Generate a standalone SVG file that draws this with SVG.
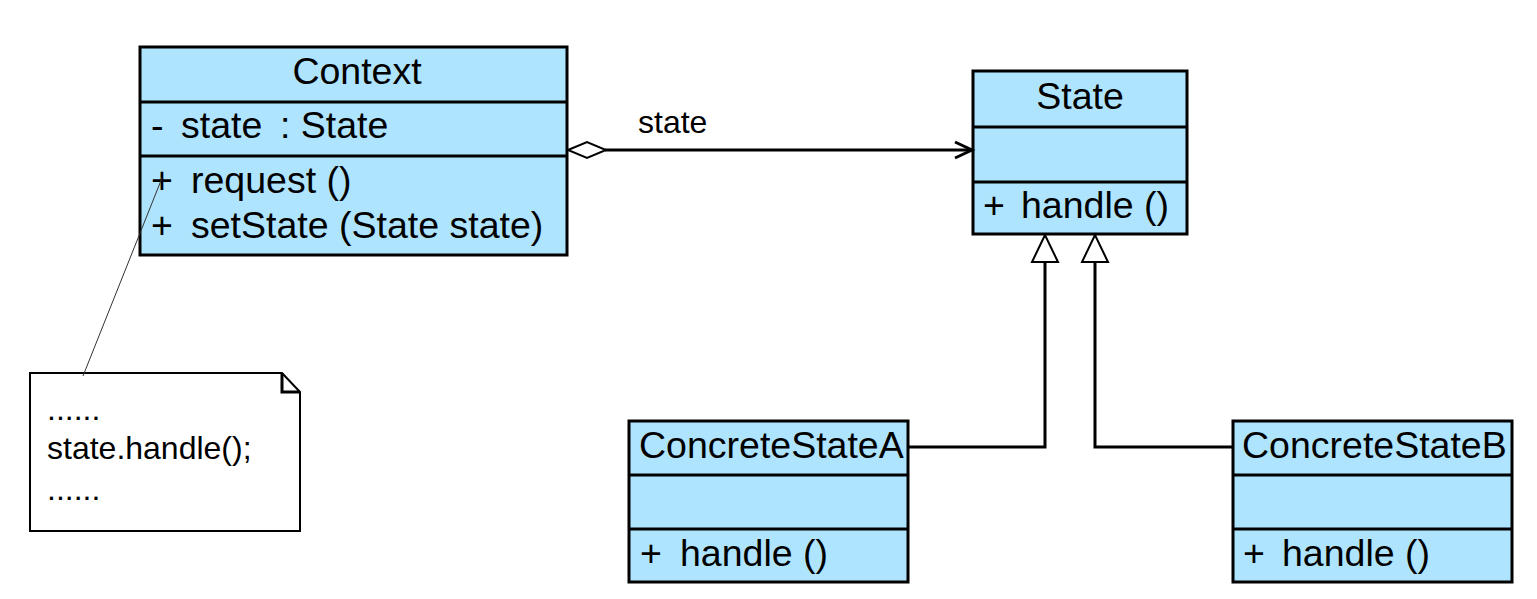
<svg xmlns="http://www.w3.org/2000/svg" width="1537" height="599" viewBox="0 0 1537 599">
<style>
.box{fill:#AFE4FE;stroke:#000;stroke-width:3}
.div{stroke:#000;stroke-width:3}
.t{font-family:"Liberation Sans",Arial,sans-serif;font-size:37.5px;fill:#000}
.c{text-anchor:middle}
.n{font-family:"Liberation Sans",Arial,sans-serif;font-size:32px;fill:#000}
.ln{fill:none;stroke:#000;stroke-width:3}
</style>
<rect x="0" y="0" width="1537" height="599" fill="#fff"/>
<g id="Context">
<rect class="box" x="140" y="47" width="427" height="208"/>
<line class="div" x1="140" y1="102" x2="567" y2="102"/>
<line class="div" x1="140" y1="156" x2="567" y2="156"/>
<text class="t c" x="357" y="84">Context</text>
<text class="t" x="151" y="138">-</text>
<text class="t" x="181" y="138">state</text>
<text class="t" x="280" y="138">: State</text>
<text class="t" x="151" y="193">+</text>
<text class="t" x="191" y="193">request ()</text>
<text class="t" x="151" y="238">+</text>
<text class="t" x="191" y="238">setState (State state)</text>
</g>
<g id="State">
<rect class="box" x="973" y="71" width="214" height="163"/>
<line class="div" x1="973" y1="127" x2="1187" y2="127"/>
<line class="div" x1="973" y1="182" x2="1187" y2="182"/>
<text class="t c" x="1080" y="109">State</text>
<text class="t" x="983" y="218">+</text>
<text class="t" x="1021" y="218">handle ()</text>
</g>
<g id="ConcreteStateA">
<rect class="box" x="629" y="421" width="279" height="161"/>
<line class="div" x1="629" y1="475" x2="908" y2="475"/>
<line class="div" x1="629" y1="529" x2="908" y2="529"/>
<text class="t" x="639" y="458">ConcreteStateA</text>
<text class="t" x="640" y="566">+</text>
<text class="t" x="680" y="566">handle ()</text>
</g>
<g id="ConcreteStateB">
<rect class="box" x="1233" y="421" width="279" height="161"/>
<line class="div" x1="1233" y1="475" x2="1512" y2="475"/>
<line class="div" x1="1233" y1="529" x2="1512" y2="529"/>
<text class="t" x="1242" y="458">ConcreteStateB</text>
<text class="t" x="1243" y="566">+</text>
<text class="t" x="1282" y="566">handle ()</text>
</g>
<g id="Note">
<path d="M30,373 H282 L300,392 V531 H30 Z" fill="#fff" stroke="#000" stroke-width="2"/>
<path d="M282,373 V392 H300" fill="none" stroke="#000" stroke-width="3"/>
<text class="n" x="47" y="420">......</text>
<text class="n" x="47" y="459">state.handle();</text>
<text class="n" x="47" y="500">......</text>
</g>
<g id="connectors">
<line x1="83" y1="376" x2="162" y2="178" stroke="#333" stroke-width="1"/>
<line class="ln" x1="605" y1="150" x2="972" y2="150"/>
<polygon points="568,150 587,142 606,150 587,158" fill="#fff" stroke="#000" stroke-width="2"/>
<polyline class="ln" points="955,142 972,150 955,158" stroke-width="2"/>
<text class="t" x="638" y="133" style="font-size:32px">state</text>
<polyline class="ln" points="908,447 1045,447 1045,262"/>
<polyline class="ln" points="1233,447 1095,447 1095,262"/>
<polygon points="1045,235 1032,262 1058,262" fill="#fff" stroke="#000" stroke-width="2"/>
<polygon points="1095,235 1082,262 1108,262" fill="#fff" stroke="#000" stroke-width="2"/>
</g>
</svg>
